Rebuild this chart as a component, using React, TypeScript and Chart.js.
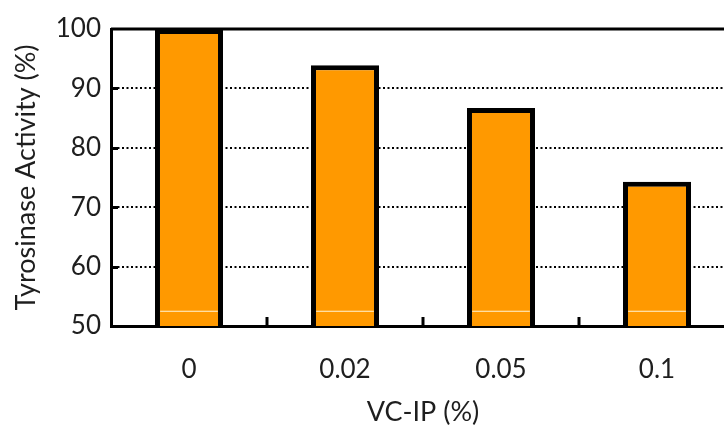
import React, { useEffect, useRef } from "react";
import { Chart, registerables } from "chart.js";

Chart.register(...registerables);

const categories = ["0", "0.02", "0.05", "0.1"];
const activity = [100, 93.9, 86.7, 74.3];
const innerLine = [
  [52.38, 52.56],
  [52.38, 52.56],
  [52.38, 52.56],
  [52.38, 52.56],
];
const yTicks = [50, 60, 70, 80, 90, 100];

const FONT = "Lato, 'DejaVu Sans', sans-serif";
const TEXT = "#1e1e1e";

const framePlugin = {
  id: "frame",
  afterDatasetsDraw(chart: any) {
    const { ctx, chartArea } = chart;
    const y = chart.scales.y;
    const x = chart.scales.x;
    ctx.save();
    ctx.strokeStyle = "#000";
    ctx.lineWidth = 3;
    ctx.beginPath();
    ctx.moveTo(chartArea.left, chartArea.top);
    ctx.lineTo(chartArea.right, chartArea.top);
    ctx.stroke();
    yTicks.forEach((v) => {
      if (v === y.min || v === y.max) return;
      const py = Math.round(y.getPixelForValue(v)) + 0.5;
      ctx.beginPath();
      ctx.moveTo(chartArea.left, py);
      ctx.lineTo(chartArea.left + 7, py);
      ctx.stroke();
    });
    for (let i = 1; i < categories.length; i++) {
      const px = Math.round((x.getPixelForValue(i - 1) + x.getPixelForValue(i)) / 2);
      ctx.beginPath();
      ctx.moveTo(px, chartArea.bottom);
      ctx.lineTo(px, chartArea.bottom - 9);
      ctx.stroke();
    }
    ctx.restore();
  },
};

export default function App() {
  const ref = useRef<HTMLCanvasElement>(null);
  useEffect(() => {
    if (!ref.current) return;
    const chart = new Chart(ref.current, {
      type: "bar",
      data: {
        labels: categories,
        datasets: [
          {
            data: innerLine as any,
            backgroundColor: "#fff6d8",
            borderWidth: 0,
            grouped: false,
            barPercentage: 0.37,
            categoryPercentage: 1,
            order: 0,
          },
          {
            data: activity,
            backgroundColor: "#ff9900",
            borderColor: "#000",
            borderWidth: 5,
            borderSkipped: false,
            grouped: false,
            barPercentage: 0.436,
            categoryPercentage: 1,
            order: 1,
          },
        ],
      },
      options: {
        responsive: false,
        animation: false,
        events: [],
        layout: { padding: { top: 29, right: 10, left: 0, bottom: 0 } },
        plugins: {
          legend: { display: false },
          tooltip: { enabled: false },
        },
        scales: {
          x: {
            type: "category",
            grid: { display: false, drawTicks: false },
            border: { display: true, color: "#000", width: 3 },
            ticks: {
              color: TEXT,
              font: { family: FONT, size: 26 },
              padding: 28,
            },
            title: {
              display: true,
              text: "VC-IP (%)",
              color: TEXT,
              font: { family: FONT, size: 27 },
              padding: { top: 2, bottom: 2 },
            },
            afterFit: (s: any) => {
              s.height = 104;
            },
          },
          y: {
            min: 50,
            max: 100,
            afterBuildTicks: (s: any) => {
              s.ticks = yTicks.map((v) => ({ value: v }));
            },
            grid: {
              drawTicks: false,
              color: (c: any) =>
                c.tick && c.tick.value > 50 && c.tick.value < 100 ? "#000" : "rgba(0,0,0,0)",
              lineWidth: 2,
            },
            border: { display: true, color: "#000", width: 3, dash: [2, 2.5] },
            ticks: {
              color: TEXT,
              font: { family: FONT, size: 26 },
              padding: 10,
            },
            title: {
              display: true,
              text: "Tyrosinase Activity (%)",
              color: TEXT,
              font: { family: FONT, size: 27 },
              padding: { top: 10, bottom: 0 },
            },
            afterFit: (s: any) => {
              s.width = 111;
            },
          },
        },
      },
      plugins: [framePlugin],
    });
    return () => chart.destroy();
  }, []);
  return (
    <div
      style={{
        position: "absolute",
        left: 0,
        top: 0,
        width: 724,
        height: 430,
        overflow: "hidden",
        background: "#fff",
      }}
    >
      <canvas ref={ref} width={745} height={430} style={{ display: "block", width: 745, height: 430 }} />
    </div>
  );
}
